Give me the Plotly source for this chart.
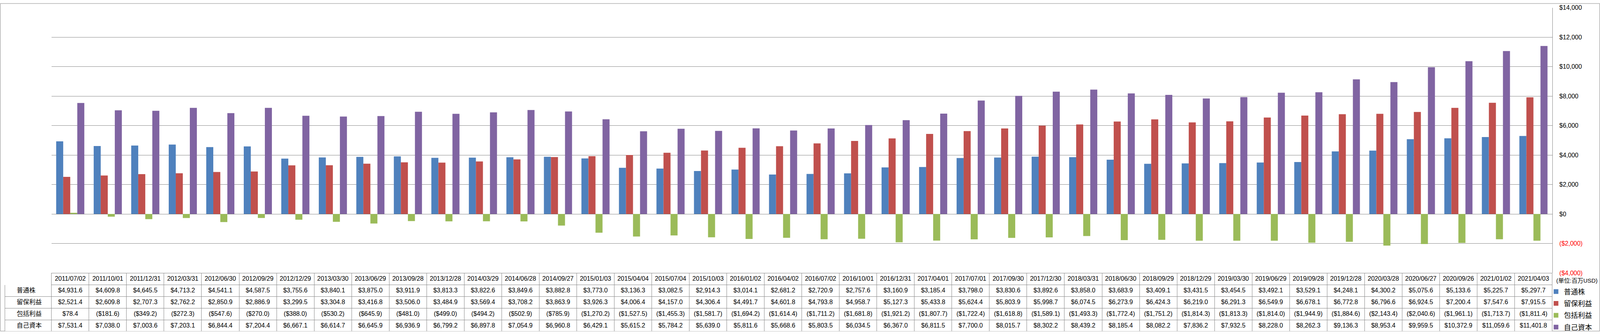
import plotly.graph_objects as go

W, H = 5221, 858  # reference size; every horizontal position below is a fraction of W

dates = ["2011/07/02", "2011/10/01", "2011/12/31", "2012/03/31", "2012/06/30", "2012/09/29",
         "2012/12/29", "2013/03/30", "2013/06/29", "2013/09/28", "2013/12/28", "2014/03/29",
         "2014/06/28", "2014/09/27", "2015/01/03", "2015/04/04", "2015/07/04", "2015/10/03",
         "2016/01/02", "2016/04/02", "2016/07/02", "2016/10/01", "2016/12/31", "2017/04/01",
         "2017/07/01", "2017/09/30", "2017/12/30", "2018/03/31", "2018/06/30", "2018/09/29",
         "2018/12/29", "2019/03/30", "2019/06/29", "2019/09/28", "2019/12/28", "2020/03/28",
         "2020/06/27", "2020/09/26", "2021/01/02", "2021/04/03"]

common_stock = [4931.6, 4609.8, 4645.5, 4713.2, 4541.1, 4587.5, 3755.6, 3840.1, 3875.0, 3911.9,
                3813.3, 3822.6, 3849.6, 3882.8, 3773.0, 3136.3, 3082.5, 2914.3, 3014.1, 2681.2,
                2720.9, 2757.6, 3160.9, 3185.4, 3798.0, 3830.6, 3892.6, 3858.0, 3683.9, 3409.1,
                3431.5, 3454.5, 3492.1, 3529.1, 4248.1, 4300.2, 5075.6, 5133.6, 5225.7, 5297.7]

retained_earnings = [2521.4, 2609.8, 2707.3, 2762.2, 2850.9, 2886.9, 3299.5, 3304.8, 3416.8, 3506.0,
                     3484.9, 3569.4, 3708.2, 3863.9, 3926.3, 4006.4, 4157.0, 4306.4, 4491.7, 4601.8,
                     4793.8, 4958.7, 5127.3, 5433.8, 5624.4, 5803.9, 5998.7, 6074.5, 6273.9, 6424.3,
                     6219.0, 6291.3, 6549.9, 6678.1, 6772.8, 6796.6, 6924.5, 7200.4, 7547.6, 7915.5]

comprehensive_income = [78.4, -181.6, -349.2, -272.3, -547.6, -270.0, -388.0, -530.2, -645.9, -481.0,
                        -499.0, -494.2, -502.9, -785.9, -1270.2, -1527.5, -1455.3, -1581.7, -1694.2, -1614.4,
                        -1711.2, -1681.8, -1921.2, -1807.7, -1722.4, -1618.8, -1589.1, -1493.3, -1772.4, -1751.2,
                        -1814.3, -1813.3, -1814.0, -1944.9, -1884.6, -2143.4, -2040.6, -1961.1, -1713.7, -1811.4]

equity = [7531.4, 7038.0, 7003.6, 7203.1, 6844.4, 7204.4, 6667.1, 6614.7, 6645.9, 6936.9,
          6799.2, 6897.8, 7054.9, 6960.8, 6429.1, 5615.2, 5784.2, 5639.0, 5811.6, 5668.6,
          5803.5, 6034.5, 6367.0, 6811.5, 7700.0, 8015.7, 8302.2, 8439.2, 8185.4, 8082.2,
          7836.2, 7932.5, 8228.0, 8262.3, 9136.3, 8953.4, 9959.5, 10372.9, 11059.6, 11401.8]

series_names = ["普通株", "留保利益", "包括利益", "自己資本"]
series_values = [common_stock, retained_earnings, comprehensive_income, equity]
colors = ["#4F81BD", "#C0504D", "#9BBB59", "#8064A2"]

ytick_vals = [-4000, -2000, 0, 2000, 4000, 6000, 8000, 10000, 12000, 14000]
unit_label = "(単位:百万USD)"

FONT = "Liberation Sans, Noto Sans CJK JP"
GRID = "#878787"


def money(v, dec=1):
    s = f"${abs(v):,.{dec}f}"
    return f"({s})" if v < 0 else s


def tick_text(v):
    s = money(v, 0)
    return f'<span style="color:#FF0000">{s}</span>' if v < 0 else s


fig = go.Figure()
for name, vals, col in zip(series_names, series_values, colors):
    fig.add_trace(go.Bar(x=dates, y=vals, name=name, legendgroup=name,
                         marker=dict(color=col, line=dict(width=0)), xaxis="x", yaxis="y"))

# legend keys inside the data table's first column
fig.add_trace(go.Scatter(x=[0] * len(series_names), y=series_names, mode="markers",
                         marker=dict(symbol="square", size=10, color=colors, line=dict(width=0)),
                         xaxis="x2", yaxis="y2", showlegend=False, hoverinfo="skip"))

NB = "\u00a0"
first_col = [NB * 5 + n for n in series_names]
cell_cols = [first_col] + [[money(s[i]) for s in series_values] for i in range(len(dates))]

fig.add_trace(go.Table(
    domain=dict(x=[16 / W, 5065 / W], y=[0, 153 / H]),
    columnwidth=[152] + [122.4] * len(dates),
    header=dict(values=[""] + dates, height=30, align="center",
                line=dict(color=["white"] + [GRID] * len(dates), width=1),
                fill=dict(color="white"), font=dict(family=FONT, size=16, color="black")),
    cells=dict(values=cell_cols, height=30, align=["left"] + ["center"] * len(dates),
               line=dict(color=GRID, width=1), fill=dict(color="white"),
               font=dict(family=FONT, size=16, color="black")),
))

fig.update_layout(
    width=W, height=H,
    margin=dict(l=0, r=0, t=0, b=0),
    paper_bgcolor="white", plot_bgcolor="white",
    barmode="group", bargap=0.25, bargroupgap=0,
    font=dict(family=FONT, size=16, color="black"),
    showlegend=True,
    legend=dict(x=5052 / W, xanchor="left", y=(H - 735) / H, yanchor="top",
                font=dict(family=FONT, size=18), bgcolor="rgba(0,0,0,0)",
                traceorder="grouped", tracegroupgap=4, borderwidth=0),
    xaxis=dict(domain=[168 / W, 5065 / W], type="category", showticklabels=False,
               showgrid=False, showline=False, zeroline=False, ticks=""),
    yaxis=dict(domain=[(H - 705) / H, (H - 12) / H], range=[-4000, 14000], side="right",
               tickvals=ytick_vals, ticktext=[tick_text(v) for v in ytick_vals],
               showgrid=True, gridcolor=GRID, gridwidth=1,
               zeroline=True, zerolinecolor=GRID, zerolinewidth=1,
               showline=True, linecolor=GRID, linewidth=1, ticks="",
               ticklabelstandoff=14, tickfont=dict(family=FONT, size=16, color="black")),
    xaxis2=dict(domain=[16 / W, 168 / W], range=[-0.07, 0.93], visible=False, fixedrange=True),
    yaxis2=dict(domain=[3 / H, 123 / H], type="category", categoryorder="array",
                categoryarray=series_names, range=[3.5, -0.5], visible=False, fixedrange=True),
    annotations=[dict(text=unit_label, xref="paper", yref="paper", x=5076 / W, y=(H - 725) / H,
                      xanchor="left", yanchor="middle", showarrow=False,
                      font=dict(family=FONT, size=15, color="black"))],
    shapes=[dict(type="rect", xref="paper", yref="paper", x0=0.0002, x1=0.9998, y0=0.0012, y1=0.9988,
                 line=dict(color=GRID, width=1), fillcolor="rgba(0,0,0,0)", layer="below")],
)

# fit the figure to the browser window (the window may be narrower than the reference)
post = """
document.body.style.margin = '0';
document.body.style.overflow = 'hidden';
var gd = document.getElementById('{plot_id}');
Plotly.relayout(gd, {width: window.innerWidth});
"""
fig.write_html("out.html", post_script=post, config={"displayModeBar": False})
